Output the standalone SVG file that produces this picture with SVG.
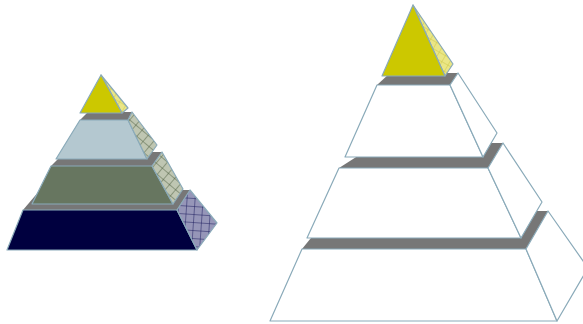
<svg xmlns="http://www.w3.org/2000/svg" width="583" height="324" viewBox="0 0 583 324">
<defs>
<pattern id="hYellow" width="7" height="7" patternUnits="userSpaceOnUse" patternTransform="rotate(30)">
<rect width="7" height="7" fill="#EAE686"/>
<path d="M0 0H7M0 0V7" stroke="#C9C13A" stroke-width="0.8" fill="none"/>
</pattern>
<pattern id="hGreen" width="8" height="8" patternUnits="userSpaceOnUse" patternTransform="rotate(40)">
<rect width="8" height="8" fill="#BFC6B2"/>
<path d="M0 0H8M0 0V8" stroke="#46583A" stroke-width="0.9" fill="none"/>
</pattern>
<pattern id="hNavy" width="8" height="8" patternUnits="userSpaceOnUse" patternTransform="rotate(4)">
<rect width="8" height="8" fill="#9696B8"/>
<path d="M0 0H8M0 0V8" stroke="#1C1C5E" stroke-width="1" fill="none"/>
</pattern>
</defs>
<style>
.shelf{fill:#777777;stroke:none}
.edge{stroke:#8AAAB9;stroke-width:1.2;stroke-linejoin:round}
.yel{fill:#CCC800}
.blue{fill:#B4C8D0}
.olive{fill:#677660}
.navy{fill:#00003F}
.white{fill:#FFFFFF}
</style>
<rect width="583" height="324" fill="#FFFFFF"/>

<g id="small-pyramid">
<g id="small-tier4">
<polygon class="shelf" points="23,210 177,210 190,190 40,190"/>
<polygon class="navy edge" points="23,210 177,210 197,250 7,250"/>
<polygon class="edge" fill="url(#hNavy)" points="177,210 190,190 217,223 197,250"/>
</g>
<g id="small-tier3">
<polygon class="shelf" points="51,166 152,166 162,152 65,152"/>
<polygon class="olive edge" points="51,166 152,166 173,204 32,204"/>
<polygon class="edge" fill="url(#hGreen)" points="152,166 162,152 183,189 173,204"/>
</g>
<g id="small-tier2">
<polygon class="shelf" points="80,120 128,120 132,112 88,112"/>
<polygon class="blue edge" points="80,120 128,120 147,159 56,159"/>
<polygon class="edge" fill="url(#hGreen)" points="128,120 132,112 157,145 147,159"/>
</g>
<g id="small-top">
<polygon class="edge" fill="url(#hYellow)" points="101,75 128,108 122,113"/>
<polygon class="yel edge" points="101,75 80,113 122,113"/>
</g>
</g>

<g id="large-pyramid">
<g id="large-tier4">
<polygon class="shelf" points="302,249 526,249 548,211 333,211"/>
<polygon class="white edge" points="302,249 526,249 557,321 270,321"/>
<polygon class="white edge" points="526,249 548,211 588,268 557,321"/>
</g>
<g id="large-tier3">
<polygon class="shelf" points="339,168 488,168 503,143 378,143"/>
<polygon class="white edge" points="339,168 488,168 521,238 307,238"/>
<polygon class="white edge" points="488,168 503,143 542,202 521,238"/>
</g>
<g id="large-tier2">
<polygon class="shelf" points="377,85 450,85 458,73 390,73"/>
<polygon class="white edge" points="377,85 450,85 483,157 345,157"/>
<polygon class="white edge" points="450,85 458,73 497,133 483,157"/>
</g>
<g id="large-top">
<polygon class="edge" fill="url(#hYellow)" points="413,5 453,64 445,76"/>
<polygon class="yel edge" points="413,5 382,76 445,76"/>
</g>
</g>
<g id="connectors"/>
</svg>
